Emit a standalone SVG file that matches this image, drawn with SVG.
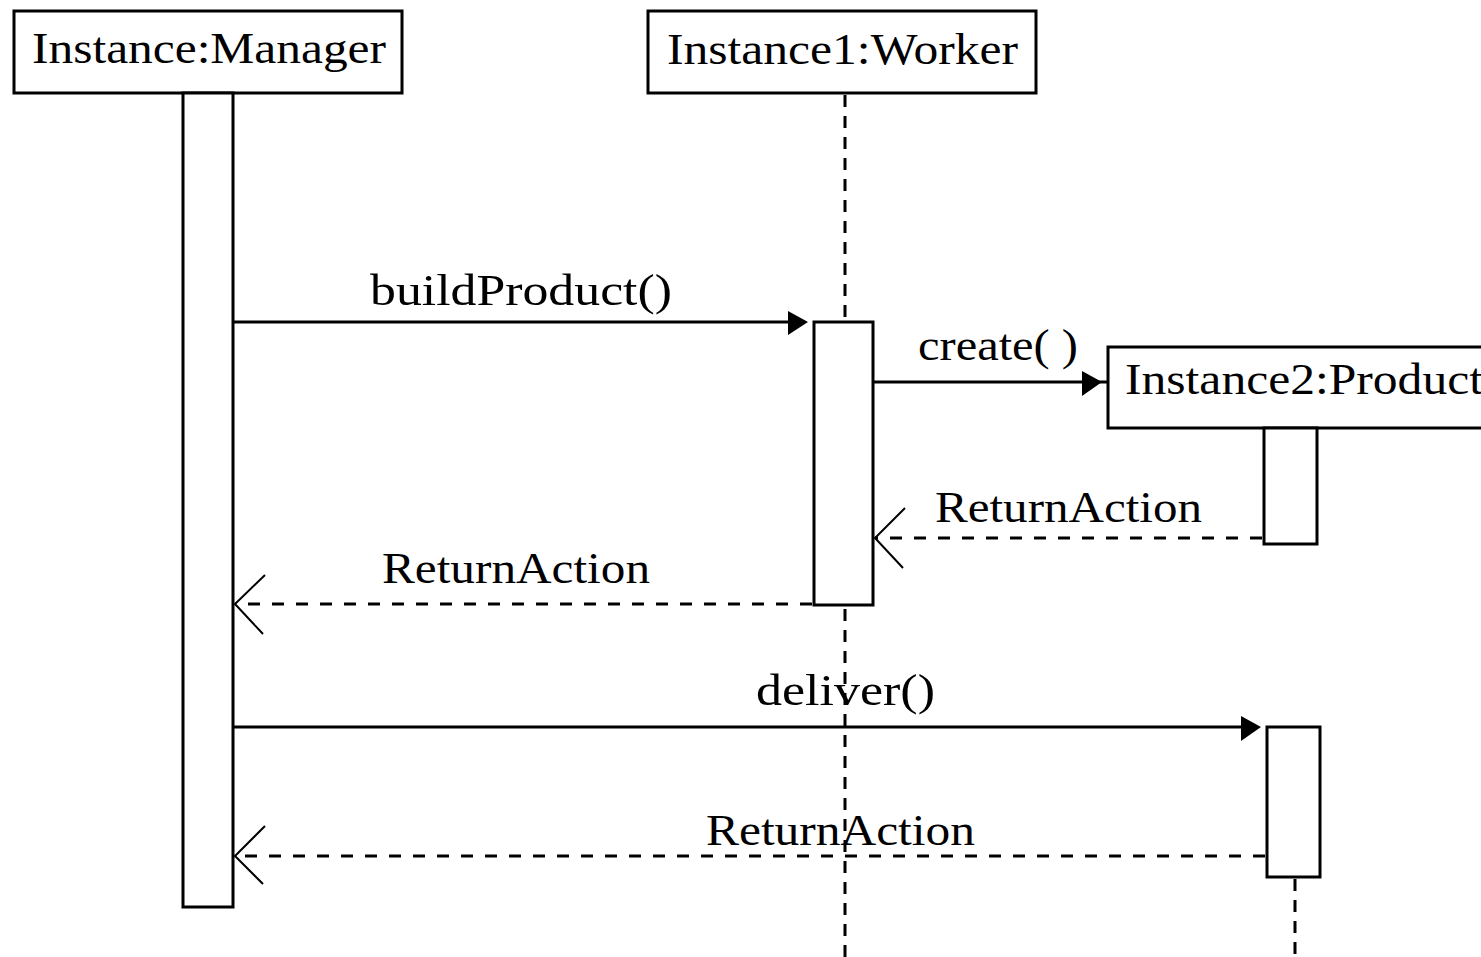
<svg xmlns="http://www.w3.org/2000/svg" width="1481" height="957" viewBox="0 0 1481 957">
<style>
.box{fill:#fff;stroke:#000;stroke-width:3}
.txt{font-family:"Liberation Serif","DejaVu Serif",serif;font-size:45px;fill:#000}
.life{stroke:#000;stroke-width:3;stroke-dasharray:12 9;fill:none}
.msg{stroke:#000;stroke-width:3;fill:none}
.ret{stroke:#000;stroke-width:3;stroke-dasharray:12 12;fill:none}
.open{stroke:#000;stroke-width:2;fill:none}
.head{fill:#000}
</style>
<rect width="1481" height="957" fill="#fff"/>
<g id="connectors">
<line class="life" x1="845" y1="95" x2="845" y2="322"/>
<line class="life" x1="845" y1="609" x2="845" y2="957"/>
<line class="life" x1="1295" y1="879" x2="1295" y2="957"/>
<line class="msg" x1="233" y1="322" x2="800" y2="322"/>
<polygon class="head" points="788,311 808,322 788,335"/>
<line class="msg" x1="873" y1="382" x2="1094" y2="382"/>
<polygon class="head" points="1082,371 1102,382 1082,396"/>
<line class="msg" x1="1094" y1="382" x2="1108" y2="382"/>
<line class="ret" x1="1262" y1="538" x2="875" y2="538"/>
<polyline class="open" points="905,508 875,538 903,568"/>
<line class="ret" x1="812" y1="604" x2="235" y2="604"/>
<polyline class="open" points="265,575 235,604 263,634"/>
<line class="msg" x1="233" y1="727" x2="1252" y2="727"/>
<polygon class="head" points="1241,716 1261,727 1241,741"/>
<line class="ret" x1="1265" y1="856" x2="235" y2="856"/>
<polyline class="open" points="265,826 235,856 263,884"/>
<text class="txt" x="370" y="305" textLength="302" lengthAdjust="spacingAndGlyphs">buildProduct()</text>
<text class="txt" x="918" y="360" textLength="160" lengthAdjust="spacingAndGlyphs">create( )</text>
<text class="txt" x="935" y="522" textLength="267" lengthAdjust="spacingAndGlyphs">ReturnAction</text>
<text class="txt" x="382" y="583" textLength="268" lengthAdjust="spacingAndGlyphs">ReturnAction</text>
<text class="txt" x="756" y="705" textLength="179" lengthAdjust="spacingAndGlyphs">deliver()</text>
<text class="txt" x="706" y="845" textLength="269" lengthAdjust="spacingAndGlyphs">ReturnAction</text>
</g>
<g id="manager">
<rect class="box" x="14" y="11" width="388" height="82"/>
<text class="txt" x="32" y="63" textLength="354" lengthAdjust="spacingAndGlyphs">Instance:Manager</text>
<rect class="box" x="183" y="93" width="50" height="814"/>
</g>
<g id="worker">
<rect class="box" x="648" y="11" width="388" height="82"/>
<text class="txt" x="667" y="64" textLength="351" lengthAdjust="spacingAndGlyphs">Instance1:Worker</text>
<rect class="box" x="814" y="322" width="59" height="283"/>
</g>
<g id="product">
<rect class="box" x="1108" y="347" width="400" height="81"/>
<text class="txt" x="1125" y="394" textLength="358" lengthAdjust="spacingAndGlyphs">Instance2:Product</text>
<rect class="box" x="1264" y="428" width="53" height="116"/>
<rect class="box" x="1267" y="727" width="53" height="150"/>
</g>
</svg>
